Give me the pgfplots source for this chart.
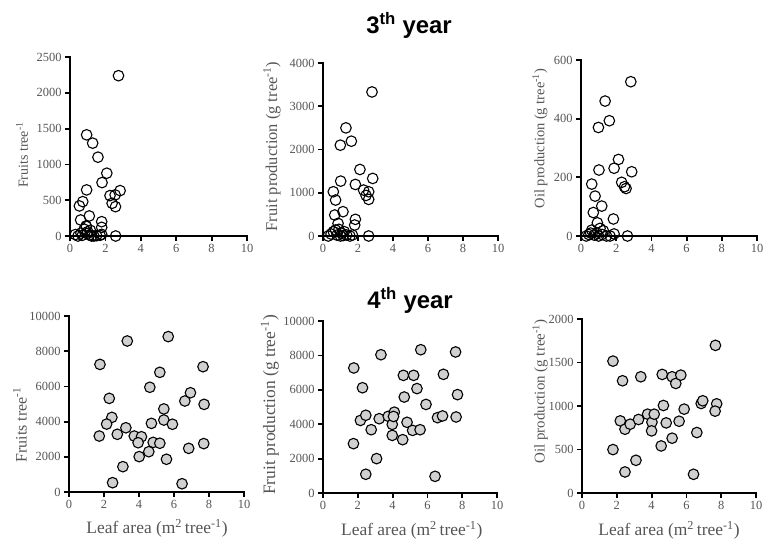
\documentclass[border=0pt]{standalone}
\usepackage{fontspec}
\setmainfont{Liberation Serif}
\newfontfamily\arial{Liberation Sans}
\usepackage{pgfplots}
\pgfplotsset{compat=1.18}
\definecolor{txt}{HTML}{555555}
\definecolor{fillg}{HTML}{D0D0D0}
\pgfplotsset{
 prism/.style={
  scale only axis,
  axis x line=bottom, axis y line=left,
  axis line style={draw=none},
  tick align=outside,
  major tick length=5bp,
  every tick/.style={line width=1.8bp, black},
  xmin=0, xmax=10, xtick={0,2,...,10},
  ymin=0,
  clip=false,
  scaled y ticks=false,
  tick label style={font=\fontsize{12.5}{12.5}\selectfont, text=txt},
  /pgf/number format/assume math mode=true,
  /pgf/number format/set thousands separator={},
  anchor=south west,
  after end axis/.code={
    \draw[line width=2.2bp, black, line cap=rect] (rel axis cs:0,0) -- (rel axis cs:1,0);
    \draw[line width=2.2bp, black, line cap=rect] (rel axis cs:0,0) -- (rel axis cs:0,1);
  },
 },
 open/.style={only marks, mark=o, mark size=5.3bp, mark options={line width=1.1bp, draw=black}},
 filled/.style={only marks, mark=*, mark size=5.3bp, mark options={line width=1.1bp, draw=black, fill=fillg}},
}
\begin{document}
\begin{tikzpicture}
\path[use as bounding box] (0,0) rectangle (773bp,-548bp);
\node[font=\arial\bfseries\fontsize{24}{24}\selectfont, anchor=base] at (409bp,-33bp) {3\textsuperscript{th} year};
\node[font=\arial\bfseries\fontsize{24}{24}\selectfont, anchor=base] at (410bp,-308bp) {4\textsuperscript{th} year};

% ---------- top 1
\begin{axis}[prism, at={(70bp,-236bp)}, width=177bp, height=179bp,
  ymax=2500, ytick={0,500,...,2500},
  ylabel={Fruits tree\textsuperscript{-1}},
  ylabel style={at={(axis description cs:-0.271,0.4525)}, anchor=center, font=\fontsize{14}{14}\selectfont, text=txt}]
\addplot[open] coordinates {
(2.74,2239) (0.94,1413) (1.28,1297) (1.58,1101) (2.08,877) (1.81,746) (0.94,644)
(2.26,564) (2.83,634) (2.55,574) (2.38,457) (2.57,410) (0.72,480) (0.53,420)
(0.60,224) (1.09,280) (0.91,140) (1.79,200) (1.79,121) (2.58,0) (1.79,23)
(0.30,20) (0.45,0) (0.62,40) (0.80,95) (0.92,135) (0.95,35) (1.10,15) (1.22,0)
(1.35,0) (1.50,5) (1.70,10) (0.70,10) (1.00,60) (1.15,80)
};
\end{axis}

% ---------- top 2
\begin{axis}[prism, at={(323bp,-236bp)}, width=175bp, height=173bp,
  ymax=4000, ytick={0,1000,...,4000},
  ylabel={Fruit production (g tree\textsuperscript{-1})},
  ylabel style={at={(axis description cs:-0.291,0.517)}, anchor=center, font=\fontsize{16.5}{17}\selectfont, text=txt}]
\addplot[open] coordinates {
(2.80,3331) (1.31,2500) (0.99,2100) (1.62,2192) (1.01,1269) (2.11,1538) (2.84,1331)
(1.85,1192) (2.32,1062) (2.61,1023) (2.46,938) (2.61,846) (0.59,1023) (0.72,831)
(0.67,485) (1.14,562) (0.86,292) (1.85,385) (1.81,254) (2.61,0)
(0.30,0) (0.46,46) (0.59,100) (0.72,138) (0.91,154) (1.07,62) (1.22,100) (1.35,23)
(1.54,0) (1.68,23) (0.80,20) (1.00,0) (1.15,10)
};
\end{axis}

% ---------- top 3
\begin{axis}[prism, at={(581bp,-236bp)}, width=176bp, height=176bp,
  ymax=600, ytick={0,200,400,600},
  ylabel={Oil production (g tree\textsuperscript{-1})},
  ylabel style={at={(axis description cs:-0.233,0.554)}, anchor=center, font=\fontsize{14.5}{15}\selectfont, text=txt}]
\addplot[open] coordinates {
(2.83,526) (1.37,460) (1.61,393) (0.99,370) (2.13,261) (1.88,231) (1.02,225)
(2.88,219) (2.31,183) (2.56,162) (2.47,168) (0.61,177) (0.80,136) (1.18,102)
(0.70,80) (0.93,45) (1.84,58) (1.88,7) (2.64,0) (0.61,20) (1.08,26) (1.27,18)
(0.30,0) (0.45,5) (0.55,10) (0.75,3) (0.90,10) (1.00,0) (1.20,5) (1.45,0) (1.65,0)
};
\end{axis}

% ---------- bottom 1
\begin{axis}[prism, at={(69bp,-492bp)}, width=175bp, height=176bp,
  ymax=10000, ytick={0,2000,...,10000},
  ylabel={Fruits tree\textsuperscript{-1}},
  ylabel style={at={(axis description cs:-0.28,0.381)}, anchor=center, font=\fontsize{16}{16}\selectfont, text=txt},
  xlabel={Leaf area (m\textsuperscript{2}\,tree\textsuperscript{-1})},
  xlabel style={at={(axis description cs:0.503,-0.205)}, anchor=center, font=\fontsize{17.5}{18}\selectfont, text=txt}]
\addplot[filled] coordinates {
(1.77,7250) (1.73,3180) (2.30,5320) (2.45,4240) (2.15,3860) (2.76,3280) (3.25,3650)
(3.33,8580) (3.08,1440) (2.49,530) (3.73,3180) (4.14,3140) (3.95,2800) (4.01,2010)
(4.62,5950) (4.71,3900) (4.81,2820) (4.56,2290) (5.19,6800) (5.19,2770) (5.42,4720)
(5.42,4090) (5.67,8830) (5.57,1860) (5.91,3850) (6.62,5170) (6.94,5640) (6.84,2480)
(6.46,470) (7.66,7120) (7.72,4980) (7.70,2750)
};
\end{axis}

% ---------- bottom 2
\begin{axis}[prism, at={(323bp,-493bp)}, width=174bp, height=172bp,
  ymax=10000, ytick={0,2000,...,10000},
  ylabel={Fruit production (g tree\textsuperscript{-1})},
  ylabel style={at={(axis description cs:-0.305,0.512)}, anchor=center, font=\fontsize{17.5}{18}\selectfont, text=txt},
  xlabel={Leaf area (m\textsuperscript{2}\,tree\textsuperscript{-1})},
  xlabel style={at={(axis description cs:0.51,-0.215)}, anchor=center, font=\fontsize{17.5}{18}\selectfont, text=txt}]
\addplot[filled] coordinates {
(1.77,7270) (1.75,2870) (2.27,6120) (2.15,4220) (2.46,4520) (2.46,1090) (2.77,3680)
(3.23,4320) (3.08,2000) (3.33,8040) (3.75,4460) (3.98,3990) (4.10,4700) (4.05,4450)
(3.98,3350) (4.58,3100) (4.62,6840) (4.67,5580) (4.83,4110) (5.15,3640) (5.21,6840)
(5.40,6070) (5.58,3680) (5.62,8330) (5.92,5150) (6.44,970) (6.58,4380) (6.87,4480)
(6.92,6900) (7.62,8200) (7.73,5720) (7.65,4420)
};
\end{axis}

% ---------- bottom 3
\begin{axis}[prism, at={(582bp,-493bp)}, width=174bp, height=174bp,
  ymax=2000, ytick={0,500,...,2000},
  ylabel={Oil production (g tree\textsuperscript{-1})},
  ylabel style={at={(axis description cs:-0.241,0.583)}, anchor=center, font=\fontsize{15}{15}\selectfont, text=txt},
  xlabel={Leaf area (m\textsuperscript{2}\,tree\textsuperscript{-1})},
  xlabel style={at={(axis description cs:0.5,-0.213)}, anchor=center, font=\fontsize{17.5}{18}\selectfont, text=txt}]
\addplot[filled] coordinates {
(1.78,1516) (1.78,499) (2.33,1290) (2.20,829) (2.47,733) (2.47,242) (2.77,791)
(3.25,845) (3.10,376) (3.38,1336) (3.77,906) (4.02,814) (4.15,906) (4.00,714)
(4.55,541) (4.61,1363) (4.68,1006) (4.84,806) (5.18,630) (5.18,1336) (5.39,1259)
(5.68,1355) (5.58,825) (5.87,964) (6.41,215) (6.60,695) (6.85,1029) (6.94,1060)
(7.67,1697) (7.74,1025) (7.65,941)
};
\end{axis}
\end{tikzpicture}
\end{document}
